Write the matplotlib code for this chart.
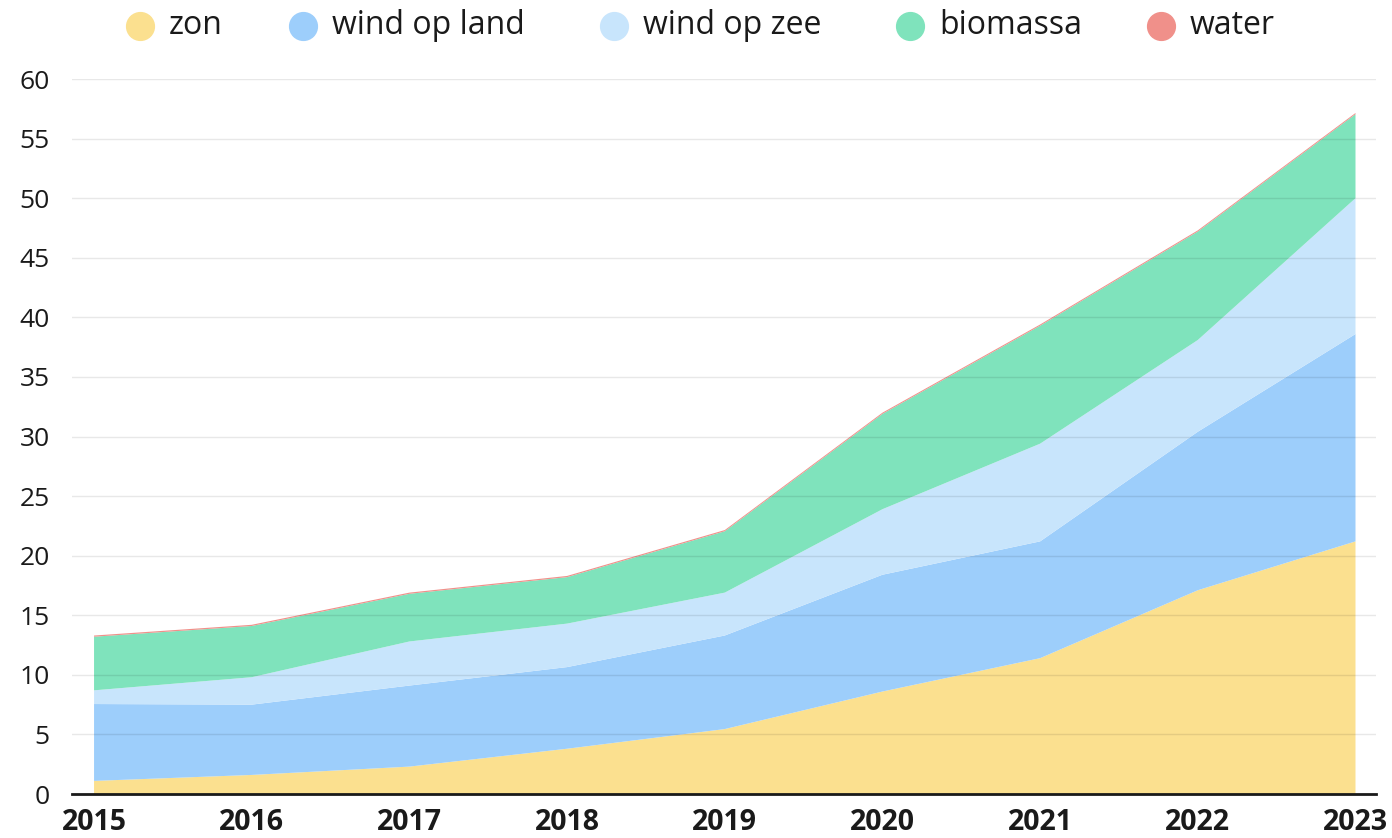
import matplotlib
matplotlib.use("Agg")
import matplotlib.pyplot as plt
from matplotlib.lines import Line2D

years = [2015, 2016, 2017, 2018, 2019, 2020, 2021, 2022, 2023]
series_names = ["zon", "wind op land", "wind op zee", "biomassa", "water"]
zon = [1.1, 1.6, 2.3, 3.8, 5.45, 8.6, 11.4, 17.1, 21.2]
wind_land = [6.45, 5.9, 6.8, 6.85, 7.85, 9.8, 9.8, 13.3, 17.4]
wind_zee = [1.15, 2.3, 3.7, 3.65, 3.6, 5.5, 8.2, 7.7, 11.4]
biomassa = [4.5, 4.3, 4.0, 3.9, 5.15, 8.0, 9.9, 9.1, 7.05]
water = [0.1, 0.1, 0.1, 0.1, 0.1, 0.1, 0.1, 0.1, 0.1]
y_ticks = [0, 5, 10, 15, 20, 25, 30, 35, 40, 45, 50, 55, 60]

colors = ["#fbe08f", "#9dcefb", "#c8e5fc", "#7fe3bc", "#f0908a"]

plt.rcParams["font.family"] = ["Open Sans", "DejaVu Sans"]

fig = plt.figure(figsize=(13.92, 8.38), dpi=100)
ax = fig.add_axes([0.0517, 0.0525, 0.9368, 0.8532])

ax.stackplot(years, zon, wind_land, wind_zee, biomassa, water,
             colors=colors, linewidth=0, zorder=1)

ax.set_xlim(2014.86, 2023.13)
ax.set_ylim(0, 60)
ax.set_yticks(y_ticks)
ax.set_xticks(years)
ax.set_xticklabels([str(y) for y in years], fontsize=20.5, fontweight="bold",
                   color="#1a1a1a")
ax.set_yticklabels([str(v) for v in y_ticks], fontsize=19, color="#1a1a1a")
ax.tick_params(axis="both", length=0)
ax.tick_params(axis="x", pad=10)
ax.tick_params(axis="y", pad=16)
for lab in ax.get_yticklabels():
    lab.set_horizontalalignment("right")

ax.set_axisbelow(False)
ax.grid(axis="y", color="#000000", alpha=0.09, linewidth=1, zorder=3)
ax.grid(axis="x", visible=False)
for s in ["left", "right", "top"]:
    ax.spines[s].set_visible(False)
ax.spines["bottom"].set_color("#1a1a1a")
ax.spines["bottom"].set_linewidth(2)
ax.spines["bottom"].set_zorder(5)

# legend
marker_x = [140, 303, 614, 910, 1161]
legend_y = 1 - 26 / 838
for name, col, mx in zip(series_names, colors, marker_x):
    fig.add_artist(Line2D([mx / 1392], [legend_y], marker="o", markersize=20,
                          color=col, linestyle="none",
                          transform=fig.transFigure))
    fig.text((mx + 29) / 1392, legend_y, name, fontsize=23, color="#1a1a1a",
             va="center", ha="left")

fig.savefig("out.png", dpi=100, facecolor="white")
